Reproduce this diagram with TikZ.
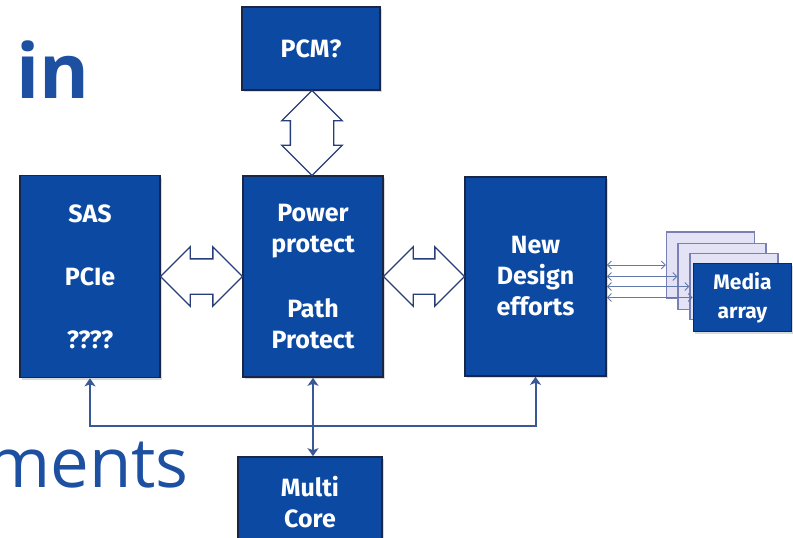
\documentclass[tikz,border=0pt]{standalone}
\usepackage{fontspec}
\setmainfont{Open Sans}
\newfontfamily\boxfont{Fira Sans}
\usetikzlibrary{shapes.arrows,arrows.meta,shadows,calc}
\definecolor{boxblue}{RGB}{12,73,162}
\definecolor{boxline}{RGB}{25,38,72}
\definecolor{titleblue}{RGB}{30,80,162}
\definecolor{arrowline}{RGB}{40,62,120}
\definecolor{busline}{RGB}{58,88,150}
\definecolor{backfill}{RGB}{228,227,245}
\definecolor{backline}{RGB}{120,128,180}
\tikzset{
  block/.style={draw=boxline, line width=1.6pt, fill=boxblue, text=white, align=center, inner sep=0pt,
    font=\boxfont\bfseries\fontsize{25}{31}\selectfont,
    drop shadow={shadow xshift=1.5pt, shadow yshift=-2pt, opacity=.3}},
  backcard/.style={draw=backline, line width=1.2pt, fill=backfill, minimum width=88, minimum height=66},
  fatarrow/.style={double arrow, draw=arrowline, fill=white, line width=1.4pt, inner sep=0pt,
    text height=17pt, text depth=17pt, minimum width=58, double arrow head extend=12},
  bus/.style={draw=busline, line width=2pt},
  bustip/.tip={Stealth[length=8pt,width=11pt,inset=2pt]},
  linktip/.tip={Straight Barb[length=4pt,width=8pt]},
  link/.style={draw=busline!80, line width=.9pt, {linktip}-{linktip}},
  title/.style={text=titleblue, inner sep=0pt}
}
\begin{document}
\begin{tikzpicture}[x=1pt,y=-1pt]
\path[use as bounding box, clip] (0,0) rectangle (793,538);
\node[title, anchor=base west, font=\bfseries\fontsize{76}{76}\selectfont] (intext) at (16,98) {in};
\node[title, anchor=base east, font=\fontsize{69}{69}\selectfont] (ments) at (189,487) {ments};
\node[block, minimum width=140, minimum height=202] (sas) at (90,276.5) {SAS\\[32pt]PCIe\\[32pt]????};
\node[block, minimum width=140, minimum height=201] (power) at (313,276.5) {Power\\protect\\[34pt]Path\\Protect};
\node[block, minimum width=141, minimum height=199] (design) at (535.5,276.5) {New\\Design\\efforts};
\node[block, minimum width=138, minimum height=83] (pcm) at (311,48.5) {PCM?};
\node[block, minimum width=144, minimum height=90] (multi) at (310,502) {Multi\\Core};
\node[backcard] (back1) at (710.5,265) {};
\node[backcard] (back2) at (722,276.5) {};
\node[backcard] (back3) at (734,286.5) {};
\node[block, minimum width=98, minimum height=68, font=\boxfont\bfseries\fontsize{21}{29}\selectfont] (media) at (742.5,297.5) {Media\\array};
\node[fatarrow, minimum height=82] (leftarrow) at ($(sas.east)!.5!(power.west)$) {};
\node[fatarrow, minimum height=81] (rightarrow) at ($(power.east)!.5!(design.west)$) {};
\node[fatarrow, minimum height=85, rotate=90, text height=21pt, text depth=21pt, double arrow head extend=8.5] (toparrow) at ($(pcm.south)!.5!(power.north)$) {};
\coordinate (busmid) at (313,426);
\draw[bus,-{bustip}] (busmid) -| (sas.south);
\draw[bus,-{bustip}] (busmid) -| (design.south);
\draw[bus,line width=2.8pt,{bustip}-{bustip}] (power.south) -- (power.south |- multi.north);
\draw[link] (design.east |- back1.west) -- (back1.west);
\draw[link] (design.east |- back2.west) -- (back2.west);
\draw[link] (design.east |- back3.west) -- (back3.west);
\draw[link] (design.east |- media.west) -- (media.west);
\end{tikzpicture}
\end{document}
